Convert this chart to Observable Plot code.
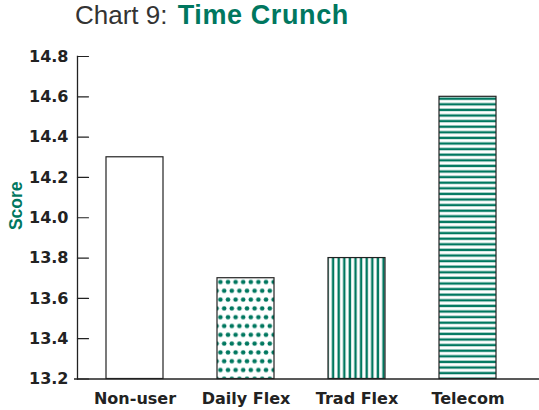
<!DOCTYPE html>
<html>
<head>
<meta charset="utf-8">
<script src="https://cdn.jsdelivr.net/npm/d3@7"></script>
<script src="https://cdn.jsdelivr.net/npm/@observablehq/plot@0.6"></script>
<style>
  html, body { margin: 0; padding: 0; background: #fff; }
  #title { font-family: "Liberation Sans", Arial, sans-serif; font-size: 26px; line-height: 30px; height: 40px; color: #333; padding-left: 75px; white-space: nowrap; }
  #title b { color: #00775F; font-size: 27px; letter-spacing: 0.6px; margin-left: 3px; }
</style>
</head>
<body>
<div id="title">Chart 9: <b>Time Crunch</b></div>
<div id="chart"></div>
<script>
const categories = ["Non-user", "Daily Flex", "Trad Flex", "Telecom"];
const scores = [14.3, 13.7, 13.8, 14.6];
const fills = ["white", "url(#dots)", "url(#vstripes)", "url(#hstripes)"];
const yTicks = [13.2, 13.4, 13.6, 13.8, 14.0, 14.2, 14.4, 14.6, 14.8];
const yDomain = [13.2, 14.8];
const yLabel = "Score";

const green = "#00775F";
const ink = "#222";

const data = categories.map((c, i) => ({category: c, score: scores[i], fill: fills[i]}));

const tickShape = {draw(context, l) { context.moveTo(0, 0); context.lineTo(0, -l); }};

const chart = Plot.plot({
  width: 539,
  height: 370,
  marginLeft: 77,
  marginRight: 0,
  marginTop: 16,
  marginBottom: 31.5,
  style: {background: "white", fontFamily: "DejaVu Sans"},
  x: {domain: categories, paddingInner: 0.49, paddingOuter: 0.326, align: 0.4, label: null},
  y: {domain: yDomain, label: null},
  marks: [
    ...fills.map(f => Plot.barY(data.filter(d => d.fill === f), {
      x: "category", y1: () => yDomain[0], y2: "score",
      fill: f, stroke: ink, strokeWidth: 1.2
    })),
    Plot.frame({anchor: "left", stroke: ink, strokeWidth: 1.3}),
    Plot.ruleY([yDomain[0]], {stroke: ink, strokeWidth: 1.3, insetLeft: -3}),
    Plot.vector(yTicks, {y: d => d, frameAnchor: "left", length: 11, rotate: 90, anchor: "start", shape: tickShape, stroke: ink, strokeWidth: 1.2}),
    Plot.axisY(yTicks, {tickSize: 0, tickPadding: 9, tickFormat: d => d.toFixed(1), fontSize: 16, fontWeight: "bold", fontFamily: "DejaVu Sans", fill: ink, label: null}),
    Plot.axisX({tickSize: 0, tickPadding: 14, fontSize: 16, fontWeight: "bold", fontFamily: "DejaVu Sans", fill: ink, label: null}),
    Plot.text([yLabel], {text: d => d, frameAnchor: "left", rotate: -90, dx: -61.5, dy: -12, fontSize: 17.5, fontWeight: "bold", fontFamily: "Liberation Sans", fill: green, lineAnchor: "middle", textAnchor: "middle"})
  ]
});

d3.select(chart).insert("defs", ":first-child").html(`
  <pattern id="dots" patternUnits="userSpaceOnUse" width="7.6" height="17.6">
    <rect width="7.6" height="17.6" fill="white"/>
    <circle cx="3.8" cy="4.4" r="2.3" fill="${green}"/>
    <circle cx="0" cy="13.2" r="2.3" fill="${green}"/>
    <circle cx="7.6" cy="13.2" r="2.3" fill="${green}"/>
  </pattern>
  <pattern id="vstripes" patternUnits="userSpaceOnUse" width="5.6" height="10">
    <rect width="5.6" height="10" fill="white"/>
    <rect x="1.5" width="2.4" height="10" fill="${green}"/>
  </pattern>
  <pattern id="hstripes" patternUnits="userSpaceOnUse" width="10" height="5.6">
    <rect width="10" height="5.6" fill="white"/>
    <rect y="1.5" width="10" height="2.4" fill="${green}"/>
  </pattern>
`);

document.getElementById("chart").appendChild(chart);
</script>
</body>
</html>
